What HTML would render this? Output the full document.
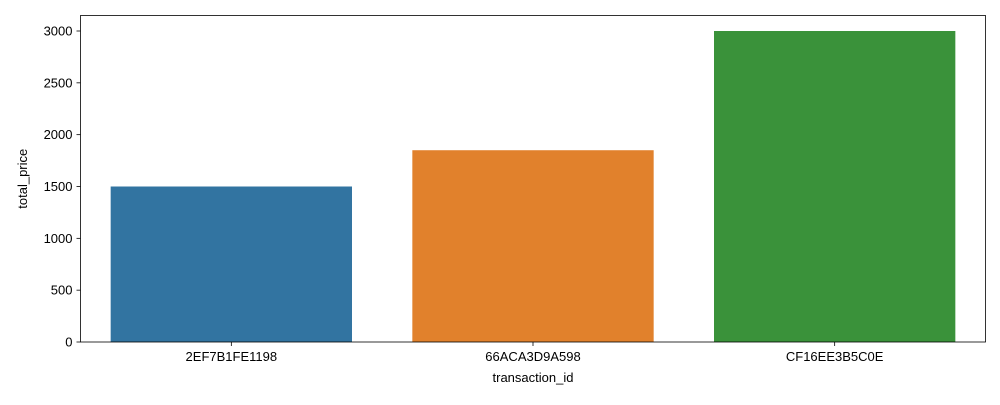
<!DOCTYPE html>
<html><head><meta charset="utf-8"><style>
body{margin:0;background:#fff;}
svg text{font-family:"Liberation Sans","DejaVu Sans",sans-serif;font-size:13px;fill:#000;}
</style></head><body>
<svg width="1000" height="400" xmlns="http://www.w3.org/2000/svg">
<g id="plot"></g>
</svg>
<script>
const categories = ["2EF7B1FE1198","66ACA3D9A598","CF16EE3B5C0E"];
const values = [1500, 1850, 3000];
const colors = ["#3274a1","#e1812c","#3a923a"];
const yTicks = [0,500,1000,1500,2000,2500,3000];
const L=80.5,R=985.5,T=15.5,B=342;
const yMax=3150;
function y(v){return B-(v/yMax)*(B-T-0.5+0.5)*(327/326.5);}
function ys(v){return B - v*(311/3000);}
const step=(R-L)/categories.length;
function xc(i){return L+step*(i+0.5);}
const ns="http://www.w3.org/2000/svg";
const g=document.getElementById('plot');
function mk(t,a,p){const e=document.createElementNS(ns,t);for(const k in a)e.setAttribute(k,a[k]);(p||g).appendChild(e);return e;}
values.forEach((v,i)=>{
  const w=step*0.8;
  const r=mk('rect',{x:xc(i)-w/2,y:ys(v),width:w,height:B-ys(v),fill:colors[i]});
  
  
  mk('line',{x1:xc(i),x2:xc(i),y1:B,y2:B+4,stroke:'#000','stroke-width':0.8});
  const t=mk('text',{x:xc(i),y:B+19,'text-anchor':'middle'});t.textContent=categories[i];
  
  
});
yTicks.forEach(v=>{
  mk('line',{x1:L-4,x2:L,y1:ys(v),y2:ys(v),stroke:'#000','stroke-width':0.8});
  const t=mk('text',{x:L-8,y:ys(v)+4.5,'text-anchor':'end'});t.textContent=v;
  
  
});
const f=mk('rect',{x:L,y:T,width:R-L,height:B-T,fill:'none',stroke:'#000','stroke-width':0.8});


const xt=mk('text',{x:(L+R)/2,y:382,'text-anchor':'middle'});xt.textContent='transaction_id';


const yt=mk('text',{x:0,y:0,'text-anchor':'middle',transform:'translate(27,'+((T+B)/2)+') rotate(-90)'});yt.textContent='total_price';


</script>
</body></html>
